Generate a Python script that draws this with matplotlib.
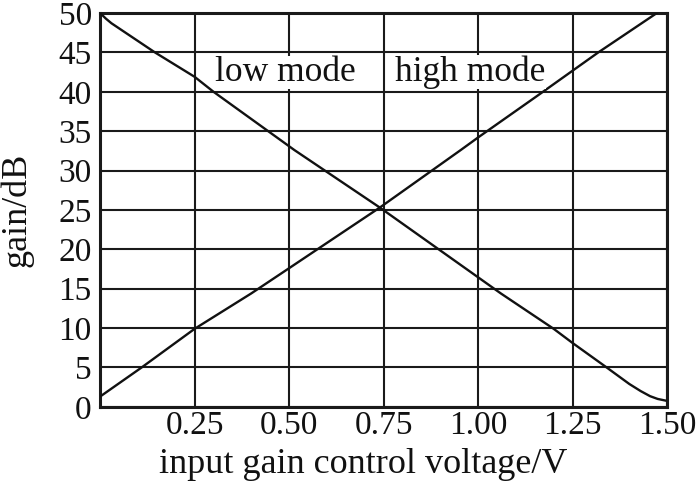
import matplotlib
matplotlib.use("Agg")
import matplotlib.pyplot as plt

# Data
rise_x = [0.0, 0.11, 0.25, 0.40, 0.50, 0.74, 0.954, 1.0, 1.157, 1.318, 1.473]
rise_y = [1.3, 5.0, 9.9, 14.4, 17.6, 25.3, 32.6, 34.2, 39.5, 45.0, 50.0]

fall_x = [0.0, 0.015, 0.03, 0.145, 0.25, 0.30, 0.514, 0.74, 1.06, 1.20, 1.25, 1.34, 1.40, 1.43, 1.455, 1.475, 1.495]
fall_y = [50.0, 49.3, 48.7, 45.0, 41.9, 40.0, 32.6, 25.3, 14.4, 9.9, 8.1, 5.0, 2.9, 2.0, 1.35, 1.0, 0.8]

x_ticks = [0.25, 0.50, 0.75, 1.00, 1.25, 1.50]
x_tick_labels = ["0.25", "0.50", "0.75", "1.00", "1.25", "1.50"]
y_ticks = [0, 5, 10, 15, 20, 25, 30, 35, 40, 45, 50]

annotations = [("low mode", 0.49, 42.5), ("high mode", 0.98, 42.5)]

plt.rcParams['font.family'] = ['Liberation Serif', 'DejaVu Serif']

fig = plt.figure(figsize=(7, 4.82), dpi=100)
ax = fig.add_axes([0.143, 0.156, 0.810, 0.817])

ax.set_xlim(0, 1.5)
ax.set_ylim(0, 50)
ax.set_xticks(x_ticks)
ax.set_xticklabels(x_tick_labels)
ax.set_yticks(y_ticks)

ax.grid(True, color='#1a1a1a', linewidth=1.5, zorder=1)
ax.set_axisbelow(True)

ax.plot(rise_x, rise_y, color='#111111', linewidth=1.7, zorder=3)
ax.plot(fall_x, fall_y, color='#111111', linewidth=1.7, zorder=3)

for txt, x, y in annotations:
    ax.text(x, y, txt, ha='center', va='center', fontsize=25.5, color='#111111',
            bbox=dict(facecolor='white', edgecolor='none', pad=0.0), zorder=4)

for s in ax.spines.values():
    s.set_linewidth(2.2)
    s.set_color('#1a1a1a')

ax.tick_params(axis='both', length=0, labelsize=24, colors='#111111')
ax.tick_params(axis='x', pad=3)
ax.tick_params(axis='y', pad=6)
ax.set_xlabel("input gain control voltage/V", fontsize=26, color='#111111')
ax.set_ylabel("gain/dB", fontsize=26, color='#111111')
ax.xaxis.set_label_coords(0.464, -0.105, transform=ax.transAxes)
ax.xaxis.label.set_va('top')
ax.yaxis.set_label_coords(-0.118, 0.5, transform=ax.transAxes)

fig.savefig("out.png", dpi=100)
